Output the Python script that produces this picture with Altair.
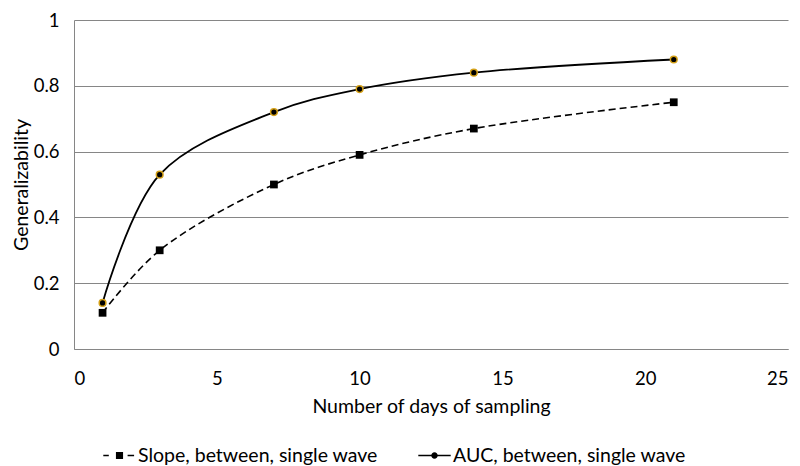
import altair as alt
import pandas as pd

days = [1, 3, 7, 10, 14, 21]
slope_vals = [0.11, 0.30, 0.50, 0.59, 0.67, 0.75]
auc_vals = [0.14, 0.53, 0.72, 0.79, 0.84, 0.88]
series_names = ["Slope, between, single wave", "AUC, between, single wave"]
x_ticks = [0, 5, 10, 15, 20, 25]
y_ticks = [0, 0.2, 0.4, 0.6, 0.8, 1]

FONT = "Lato"
FS = 19.5
LFS = 18.5

df = pd.DataFrame(
    {"days": days * 2,
     "value": slope_vals + auc_vals,
     "series": [series_names[0]] * len(days) + [series_names[1]] * len(days)}
)

x_enc = alt.X("days:Q", scale=alt.Scale(domain=[0, 25], nice=False),
              axis=alt.Axis(values=x_ticks, title="Number of days of sampling", grid=False,
                            ticks=False, domainColor="#868686", labelPadding=20, titlePadding=10))
y_enc = alt.Y("value:Q", scale=alt.Scale(domain=[0, 1], nice=False),
              axis=alt.Axis(values=y_ticks, title="Generalizability", grid=True, gridColor="#868686",
                            ticks=False, domainColor="#868686", labelPadding=15, titlePadding=2,
                            labelExpr="datum.value == 0 || datum.value == 1 ? format(datum.value, 'd') : format(datum.value, '.1f')"))

base = alt.Chart(df)

slope_line = base.transform_filter(alt.datum.series == series_names[0]).mark_line(
    interpolate="catmull-rom", color="black", strokeWidth=1.6, strokeDash=[7, 4]
).encode(x=x_enc, y=y_enc)

auc_line = base.transform_filter(alt.datum.series == series_names[1]).mark_line(
    interpolate="catmull-rom", color="black", strokeWidth=1.8
).encode(x=x_enc, y=y_enc)

slope_pts = base.transform_filter(alt.datum.series == series_names[0]).mark_point(
    shape="square", filled=True, color="black", size=60, opacity=1
).encode(x=x_enc, y=y_enc)

auc_pts = base.transform_filter(alt.datum.series == series_names[1]).mark_point(
    shape="circle", fill="black", stroke="#d4a017", strokeWidth=1.5, size=45, opacity=1, filled=False
).encode(x=x_enc, y=y_enc)

# legend symbols built only from filled shapes (dashes as thin bars)
slope_sym = ("M-1,-0.05H-0.66V0.05H-1Z M0.5,-0.05H0.9V0.05H0.5Z "
             "M-0.22,-0.22H0.22V0.22H-0.22Z")
auc_sym = ("M-1,-0.05H1V0.05H-1Z "
           "M0.2,0A0.2,0.2 0 1 1 -0.2,0A0.2,0.2 0 1 1 0.2,0Z")

legend_layer = base.transform_filter("false").mark_point(
    filled=True, color="black", opacity=1
).encode(
    x=x_enc, y=y_enc,
    shape=alt.Shape("series:N",
                    scale=alt.Scale(domain=series_names, range=[slope_sym, auc_sym]),
                    legend=alt.Legend(orient="none", legendX=29, legendY=419, direction="horizontal",
                                      title=None,
                                      symbolSize=1050, symbolFillColor="black", symbolOpacity=1,
                                      symbolStrokeWidth=0, labelFontSize=FS,
                                      labelFont=FONT, labelLimit=500,
                                      labelColor="black", labelOffset=2, columnPadding=40))
)

chart = alt.layer(slope_line, auc_line, slope_pts, auc_pts, legend_layer).properties(
    width=714, height=329,
    padding={"left": 3, "top": 3, "right": 4, "bottom": 0}
).configure_view(stroke=None).configure_axis(
    labelFont=FONT, titleFont=FONT, labelFontSize=LFS, titleFontSize=FS,
    labelColor="black", titleColor="black", titleFontWeight="normal"
)

chart.save("out.html", embed_options={"renderer": "svg", "actions": False})
